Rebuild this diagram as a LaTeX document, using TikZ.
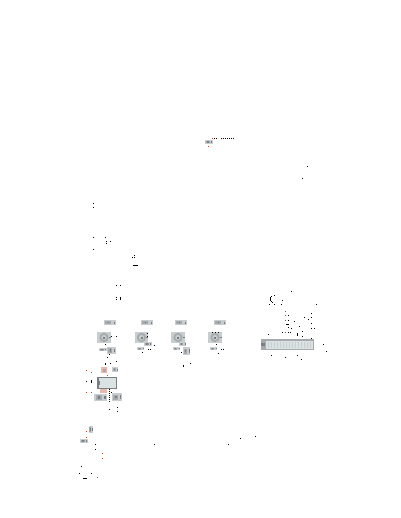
\documentclass[tikz,border=0pt]{standalone}
\definecolor{dotred}{RGB}{200,70,30}
\definecolor{blockfill}{RGB}{200,205,208}
\definecolor{blockdark}{RGB}{120,126,130}
\definecolor{blockmid}{RGB}{165,170,174}
\definecolor{blocklight}{RGB}{218,226,228}
\definecolor{pinktint}{RGB}{230,185,172}
\tikzset{
  blockbg/.style={fill=blockfill,draw=none},
  blocksm/.style={fill=blockdark,draw=none},
  blockmd/.style={fill=blockmid,draw=none},
  blockhi/.style={fill=blocklight,draw=none},
  pinkbg/.style={fill=pinktint,draw=none},
  inkdot/.style={fill=black,draw=none},
  reddot/.style={fill=dotred,draw=none}
}
% one reference pixel
\newcommand{\blackpts}[1]{\foreach \a/\b in {#1}{\fill[inkdot] (\a,\b) rectangle +(1,1);}}
\newcommand{\redpts}[1]{\foreach \a/\b in {#1}{\fill[reddot] (\a,\b) rectangle +(1,1);}}
% small scanned block: grey patch with mottled smudges
\newcommand{\blk}[4]{%
  \fill[blockbg] (#1,#2) rectangle (#3,#4);
  \fill[blockmd] ({#1+0.12*(#3-#1)},{#2+0.2*(#4-#2)}) rectangle ({#1+0.6*(#3-#1)},{#2+0.85*(#4-#2)});
  \fill[blocksm] ({#1+0.3*(#3-#1)},{#2+0.35*(#4-#2)}) rectangle ({#1+0.45*(#3-#1)},{#2+0.65*(#4-#2)});
  \fill[blocksm] ({#1+0.8*(#3-#1)},{#2+0.3*(#4-#2)}) rectangle ({#1+0.92*(#3-#1)},{#2+0.7*(#4-#2)});
}
% big scanned block: grey patch with a round smudge
\newcommand{\bigblk}[4]{%
  \fill[blockbg] (#1,#2) rectangle (#3,#4);
  \fill[blockmd] ({0.5*(#1+#3)},{0.5*(#2+#4)}) circle (4.6);
  \fill[blockbg] ({0.5*(#1+#3)},{0.5*(#2+#4)}) circle (2.6);
  \fill[blocksm] ({0.5*(#1+#3)-1},{0.5*(#2+#4)-1}) rectangle +(2,2);
  \fill[blocksm] ({#3-2},{0.5*(#2+#4)-1}) rectangle +(2,1.5);
}
\begin{document}
\begin{tikzpicture}[x=1pt,y=-1pt]
\useasboundingbox (0,0) rectangle (400,518);
\fill[white] (0,0) rectangle (400,518);
% top marker
\blk{205}{140}{213}{144}
\redpts{212/138,208/146}
\blackpts{214/138,216/138,221/138,223/138,225/138,227/138,229/138,231/138,233/138}
\blackpts{307/166,302/178}
% left scatter
\blackpts{93/203,93/207,93/237,105/237,106/241,106/243,110/241,93/249,
  132/257,134/255,134/257,116/285,120/285,116/297,116/299,120/297,120/298,120/299}
\fill[inkdot] (133,265) rectangle (138,266);
% column 1
\blk{104}{320}{116}{325}
\bigblk{97}{332}{111}{343}
\blk{99}{348}{107}{351}
\blk{107}{347}{116}{354}
\blackpts{111/336,116/336,105/344,109/354,107/357,105/363,105/364,110/363,116/361}
% column 2
\blk{141}{320}{153}{325}
\bigblk{135}{332}{148}{343}
\blk{144}{342}{152}{346}
\blk{137}{347}{144}{350}
\blackpts{147/333,147/336,154/345,148/349,150/349,142/352}
% column 3
\blk{175}{320}{187}{325}
\bigblk{171}{332}{185}{343}
\blk{179}{342}{186}{346}
\blk{173}{347}{180}{350}
\blk{183}{347}{190}{355}
\blackpts{181/352,183/365,183/366,190/363}
% column 4
\blk{214}{320}{226}{325}
\bigblk{208}{332}{222}{343}
\blk{210}{347}{217}{350}
\blackpts{216/344,221/349,223/349,218/353,212/332,215/332,218/332}
% lower-left cluster
\fill[pinkbg] (101,367) rectangle (107,373);
\fill[blockmd] (103,369) rectangle (106,372);
\blk{112}{367}{118}{372}
\redpts{86/370,91/372,107/375,86/392,91/392}
\blackpts{86/381,91/380,91/381,91/382,111/392}
\fill[blockdark] (97,377) rectangle (117,389);
\fill[blockhi] (99,378) rectangle (116,388);
\fill[blocksm] (97,381) rectangle (100,385);
\fill[pinkbg] (100,389) rectangle (107,393);
\blk{94}{394}{107}{401}
\blk{112}{393}{122}{401}
\blackpts{109/389,109/391,109/393,109/395,109/397,109/399,109/401,109/409,117/407,117/411}
% right long block
\fill[blockmd] (261,339) rectangle (314,350);
\fill[blockhi] (266,341) rectangle (313,349);
\fill[blocksm] (261,343) rectangle (265,346);
\foreach \v in {268,271,...,312}{\fill[blockbg] (\v,342) rectangle +(1,6);}
\blackpts{291/291,271/296,270/297,270/298,270/299,270/300,271/301,272/302,274/295,269/304,274/304,
  282/300,281/304,316/304,288/315,288/320,294/321,304/317,308/319,311/313,311/317,311/323,311/328,314/328,
  299/326,286/324,287/324,288/324,288/327,291/328,282/332,288/332,290/332,297/333,297/334,297/335,
  302/331,302/336,311/338,268/334,323/344,326/351,271/355,285/357,297/355,301/359}
\redpts{285/311,285/315,285/320,285/332}
% bottom left
\blk{89}{426}{93}{433}
\blk{80}{439}{88}{443}
\redpts{86/431,86/437,102/453,102/458,97/477}
\blackpts{95/444,95/449,81/466,79/473,91/473}
\fill[inkdot] (83,478) rectangle (87,479);
% bottom middle
\blackpts{154/444,228/444,240/438,255/436}
\end{tikzpicture}
\end{document}
